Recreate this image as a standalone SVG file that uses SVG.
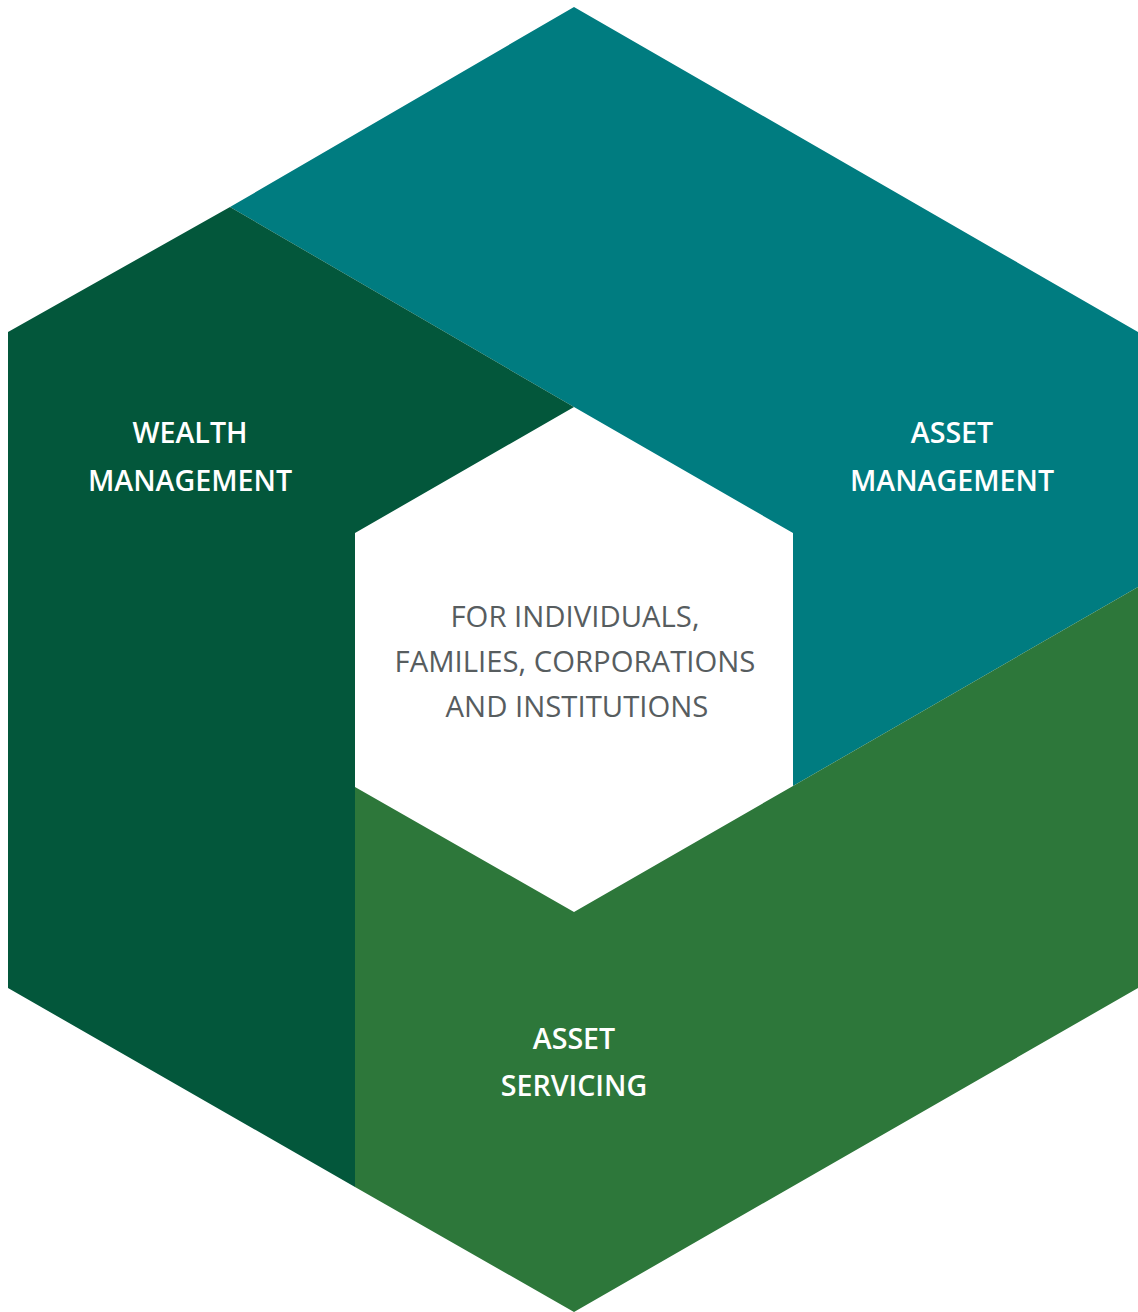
<svg xmlns="http://www.w3.org/2000/svg" width="1138" height="1312" viewBox="0 0 1138 1312">
<style>
.lbl{font-family:"Open Sans","Liberation Sans",sans-serif;font-size:28.6px;font-weight:600;fill:#ffffff;text-anchor:middle}
.ctr{font-family:"Open Sans","Liberation Sans",sans-serif;font-size:29.3px;font-weight:400;fill:#575d5f;text-anchor:middle}
</style>
<rect width="1138" height="1312" fill="#ffffff"/>
<g id="asset-management">
<polygon points="574,7 1138,332 1138,587 793,786 793,533 574,407 230,207" fill="#007C80"/>
<text class="lbl" x="952" y="443">ASSET</text>
<text class="lbl" x="952" y="491">MANAGEMENT</text>
</g>
<g id="wealth-management">
<polygon points="230,207 574,407 355,533 355,787 355,1187 8,988 8,332" fill="#03573B"/>
<text class="lbl" x="190" y="443">WEALTH</text>
<text class="lbl" x="190" y="491">MANAGEMENT</text>
</g>
<g id="asset-servicing">
<polygon points="355,787 574,912 793,786 1138,587 1138,988 574,1312 355,1187" fill="#2D773A"/>
<text class="lbl" x="574" y="1049">ASSET</text>
<text class="lbl" x="574" y="1096">SERVICING</text>
</g>
<g id="center">
<text class="ctr" x="575" y="627">FOR INDIVIDUALS,</text>
<text class="ctr" x="575" y="672">FAMILIES, CORPORATIONS</text>
<text class="ctr" x="577" y="717">AND INSTITUTIONS</text>
</g>
<g id="connectors"></g>
</svg>
